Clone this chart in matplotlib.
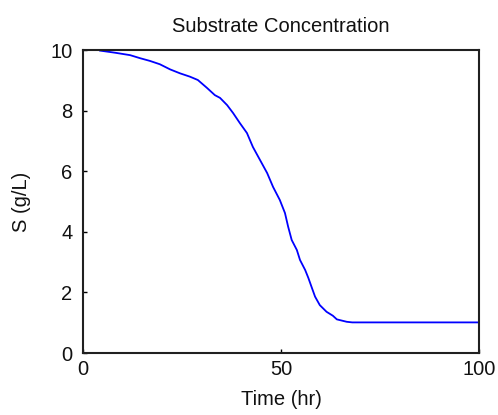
import matplotlib
matplotlib.use("Agg")
import matplotlib.pyplot as plt

# substrate concentration over the batch run
time_hr = [4.3, 8.1, 11.9, 14.4, 16.9, 19.4, 22.0, 24.5, 27.0, 29.0, 31.3, 33.3,
           34.6, 36.4, 37.9, 39.6, 41.4, 42.9, 44.7, 46.5, 48.0, 49.7, 51.0,
           51.8, 52.7, 54.0, 54.8, 56.1, 56.9, 57.8, 58.6, 59.8, 61.5, 63.1,
           64.1, 66.6, 68, 80, 90, 100]
subs_gL = [9.98, 9.91, 9.83, 9.73, 9.64, 9.53, 9.36, 9.23, 9.12, 9.01, 8.75, 8.51,
           8.42, 8.18, 7.92, 7.59, 7.26, 6.80, 6.37, 5.94, 5.48, 5.05, 4.62,
           4.17, 3.73, 3.40, 3.07, 2.74, 2.48, 2.15, 1.86, 1.58, 1.36, 1.23,
           1.11, 1.03, 1.01, 1.01, 1.01, 1.01]

plt.rcParams['font.family'] = ['Liberation Sans', 'DejaVu Sans']

fig = plt.figure(figsize=(4.98, 4.15), dpi=100)
ax = fig.add_axes([83 / 498, 1 - 353 / 415, 396 / 498, 303 / 415])

ax.plot(time_hr, subs_gL, color='#0000ff', lw=1.3)

ax.set_xlim(0, 100)
ax.set_ylim(0, 10)
ax.set_xticks([0, 50, 100])
ax.set_yticks([0, 2, 4, 6, 8, 10])
ax.tick_params(direction='in', length=3, width=1, labelsize=14.5,
               labelcolor='#111111')
ax.tick_params(axis='x', pad=5)
ax.tick_params(axis='y', pad=7.5)
for s in ax.spines.values():
    s.set_linewidth(1.5)
    s.set_color('#202020')

ax.set_title('Substrate Concentration', fontsize=14.5, pad=13, color='#111111')
ax.set_xlabel('Time (hr)', fontsize=14.5, labelpad=8, color='#111111')
ax.set_ylabel('S (g/L)', fontsize=14.5, labelpad=14, color='#111111')

fig.savefig('out.png', dpi=100)
